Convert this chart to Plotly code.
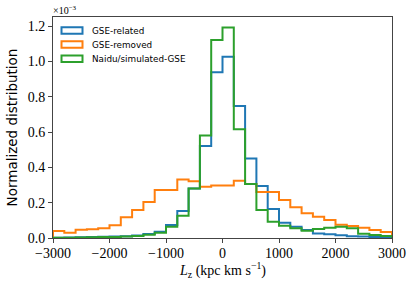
import plotly.graph_objects as go

# Bin edges: -3000 to 3000 in steps of 200 (30 bins)
bin_edges = list(range(-3000, 3001, 200))

# Normalized distribution values (units of 1e-3)
gse_related = [0.002, 0.003, 0.004, 0.006, 0.007, 0.008, 0.010, 0.014, 0.022, 0.036,
               0.074, 0.153, 0.281, 0.521, 0.939, 1.027, 0.748, 0.451, 0.295, 0.164,
               0.087, 0.064, 0.045, 0.026, 0.021, 0.015, 0.010, 0.008, 0.006, 0.004]
gse_removed = [0.040, 0.030, 0.047, 0.050, 0.055, 0.072, 0.117, 0.159, 0.204, 0.272,
               0.272, 0.332, 0.321, 0.290, 0.298, 0.298, 0.325, 0.306, 0.261, 0.261,
               0.215, 0.174, 0.140, 0.121, 0.102, 0.075, 0.068, 0.058, 0.045, 0.034]
naidu_gse = [0.002, 0.002, 0.003, 0.004, 0.005, 0.006, 0.008, 0.012, 0.018, 0.030,
             0.064, 0.126, 0.281, 0.580, 1.122, 1.192, 0.616, 0.306, 0.159, 0.092,
             0.070, 0.055, 0.041, 0.051, 0.058, 0.064, 0.055, 0.024, 0.017, 0.012]

series = [
    ("GSE-related", gse_related, "#1f77b4"),
    ("GSE-removed", gse_removed, "#ff7f0e"),
    ("Naidu/simulated-GSE", naidu_gse, "#2ca02c"),
]

fig = go.Figure()
for name, vals, color in series:
    xs = [bin_edges[0]] + bin_edges + [bin_edges[-1]]
    ys = [0] + vals + [vals[-1]] + [0]
    fig.add_trace(go.Scatter(x=xs, y=ys, mode="lines", line=dict(shape="hv", color=color, width=2),
                             name=name, showlegend=False, hoverinfo="skip"))

# custom legend (outlined rectangles like matplotlib step histograms)
px0, px1, py0, py1 = 53, 392, 17, 238
def px(x):
    return (x - px0) / (px1 - px0)
def py(y):
    return (py1 - y) / (py1 - py0)

legend_rows = [27.2, 41.3, 55.5]
for (name, vals, color), ytop in zip(series, legend_rows):
    fig.add_shape(type="rect", xref="paper", yref="paper",
                  x0=px(61.5), x1=px(82.5), y0=py(ytop + 6.5), y1=py(ytop),
                  line=dict(color=color, width=2), fillcolor="rgba(0,0,0,0)")
    fig.add_annotation(xref="paper", yref="paper", x=px(90), y=py(ytop + 3.3),
                       text=name, showarrow=False, xanchor="left", yanchor="middle",
                       font=dict(family="DejaVu Sans", size=8.8, color="black"))

fig.add_annotation(xref="paper", yref="paper", x=0, y=1, xanchor="left", yanchor="bottom",
                   text="×10<sup>−3</sup>", showarrow=False, yshift=-1, xshift=-2,
                   font=dict(family="Liberation Serif", size=10, color="black"))

# x-axis title as annotation for exact placement
fig.add_annotation(xref="paper", yref="paper", x=0.5, y=py(270), xanchor="center", yanchor="middle",
                   text="<i>L</i><sub>z</sub> (kpc km s<sup>−1</sup>)", showarrow=False,
                   font=dict(family="Liberation Serif", size=14, color="black"))

axis_common = dict(showline=True, linecolor="#444", linewidth=1, mirror=True,
                   ticks="outside", ticklen=4, tickwidth=1, tickcolor="#444",
                   showgrid=False, zeroline=False,
                   tickfont=dict(family="Liberation Serif", size=14, color="black"))

fig.update_layout(
    width=415, height=288,
    margin=dict(l=53, r=23, t=17, b=50),
    paper_bgcolor="white", plot_bgcolor="white",
    xaxis=dict(range=[-3000, 3000], tickvals=[-3000, -2000, -1000, 0, 1000, 2000, 3000],
               ticklabelstandoff=-2, automargin=False,
               **axis_common),
    yaxis=dict(range=[0, 1.252], tickvals=[0, 0.2, 0.4, 0.6, 0.8, 1.0, 1.2], tickformat=".1f",
               automargin=False,
               title=dict(text="Normalized distribution", standoff=6,
                          font=dict(family="DejaVu Sans", size=13.5, color="black")),
               **axis_common),
)

fig.write_html("out.html", config={"displayModeBar": False},
               post_script="document.body.style.margin='0';document.body.style.overflow='hidden';")
